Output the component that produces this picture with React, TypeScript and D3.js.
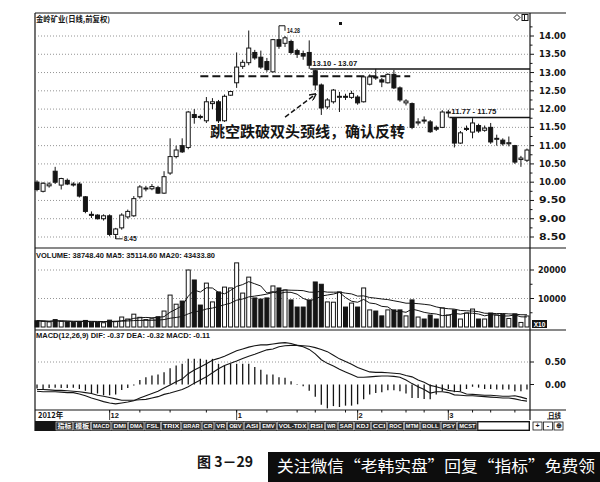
import * as d3 from 'd3'

// ── daily bars (index 0 = first bar on the left) ─────────────────────────
const OPEN = [10.0, 9.75, 9.9, 10.3, 9.92, 10.05, 9.95, 9.95, 9.6, 9.12,
  9.1, 9.0, 9.08, 8.57, 8.75, 9.05, 9.08, 9.6, 9.82, 9.82,
  9.85, 9.7, 10.25, 10.7, 11.0, 10.95, 11.85, 11.8, 11.68, 12.15,
  12.2, 11.68, 12.38, 12.72, 13.17, 13.27, 13.55, 13.42, 13.3, 13.02,
  13.9, 13.8, 13.85, 13.6, 13.52, 13.55, 13.05, 12.66, 12.06, 12.2,
  12.33, 12.35, 12.32, 12.33, 12.2, 12.68, 12.88, 12.8, 12.72, 12.95,
  12.58, 12.17, 12.15, 11.62, 11.7, 11.65, 11.5, 11.5, 11.9, 11.75,
  11.07, 11.45, 11.37, 11.55, 11.42, 11.5, 11.18, 11.15, 11.05, 11.0,
  10.62, 10.6]
const HIGH = [10.05, 10.0, 10.0, 10.42, 10.12, 10.1, 10.0, 10.0, 9.62, 9.2,
  9.12, 9.12, 9.12, 8.75, 9.15, 9.25, 9.62, 9.92, 9.9, 9.95,
  9.9, 10.3, 11.2, 11.0, 11.2, 11.95, 12.0, 11.85, 12.33, 12.3,
  12.25, 12.4, 12.5, 13.55, 13.35, 14.15, 13.62, 13.6, 13.4, 13.92,
  14.28, 14.0, 13.9, 13.65, 13.6, 13.88, 13.07, 12.7, 12.3, 12.55,
  12.47, 12.42, 12.5, 12.38, 12.9, 12.95, 13.1, 12.85, 12.98, 13.07,
  12.62, 12.27, 12.18, 11.75, 11.8, 11.7, 11.55, 11.97, 11.98, 11.75,
  11.4, 11.55, 11.75, 11.6, 11.55, 11.62, 11.3, 11.2, 11.25, 11.02,
  10.72, 10.92]
const LOW = [9.75, 9.72, 9.85, 9.95, 9.8, 9.92, 9.88, 9.58, 9.15, 9.02,
  8.98, 8.95, 8.52, 8.45, 8.7, 9.0, 9.05, 9.55, 9.75, 9.78,
  9.68, 9.68, 10.2, 10.65, 10.8, 10.9, 11.6, 11.72, 11.62, 12.0,
  11.62, 11.65, 12.36, 12.58, 13.1, 13.2, 13.35, 13.1, 13.02, 13.0,
  13.65, 13.7, 13.5, 13.4, 13.35, 13.1, 12.52, 11.84, 12.0, 12.15,
  11.92, 12.25, 12.28, 12.12, 12.18, 12.65, 12.8, 12.6, 12.7, 12.55,
  12.2, 12.1, 11.45, 11.55, 11.6, 11.35, 11.4, 11.48, 11.77, 10.95,
  11.05, 11.4, 11.2, 11.35, 11.38, 11.05, 11.0, 11.0, 10.98, 10.5,
  10.42, 10.55]
const CLOSE = [9.8, 9.97, 9.95, 10.0, 10.1, 9.95, 9.93, 9.62, 9.2, 9.1,
  9.0, 9.08, 8.57, 8.72, 9.1, 9.2, 9.55, 9.87, 9.84, 9.88,
  9.7, 10.15, 10.7, 10.88, 10.83, 11.92, 11.77, 11.78, 12.2, 12.2,
  11.68, 12.35, 12.48, 13.15, 13.28, 13.67, 13.4, 13.15, 13.08, 13.9,
  13.72, 13.95, 13.55, 13.5, 13.45, 13.2, 12.66, 12.03, 12.25, 12.52,
  12.35, 12.33, 12.43, 12.17, 12.88, 12.88, 12.85, 12.74, 12.95, 12.58,
  12.25, 12.22, 11.5, 11.65, 11.68, 11.38, 11.45, 11.92, 11.92, 11.07,
  11.35, 11.47, 11.62, 11.4, 11.48, 11.1, 11.2, 11.05, 11.08, 10.55,
  10.66, 10.88]
const VOLUME = [22000, 20000, 18000, 26000, 20000, 18000, 16000, 19000, 23000, 17000,
  16000, 15000, 24000, 20000, 35000, 28000, 45000, 34000, 26000, 29000,
  36000, 56000, 112000, 80000, 91000, 200000, 165000, 77000, 154000, 88000,
  123000, 140000, 137000, 225000, 119000, 175000, 102000, 98000, 102000, 144000,
  137000, 130000, 95000, 70000, 70000, 95000, 158000, 150000, 88000, 87000,
  123000, 70000, 84000, 70000, 137000, 60000, 56000, 39000, 60000, 60000,
  60000, 39000, 95000, 35000, 28000, 42000, 28000, 67000, 42000, 60000,
  28000, 49000, 63000, 28000, 28000, 49000, 42000, 45000, 30000, 46000,
  16000, 38748.4]
const DIF = [-0.15, -0.16, -0.16, -0.16, -0.17, -0.18, -0.18, -0.21, -0.25, -0.30,
  -0.34, -0.38, -0.41, -0.43, -0.41, -0.39, -0.36, -0.30, -0.25, -0.20,
  -0.15, -0.08, -0.01, 0.06, 0.12, 0.24, 0.32, 0.39, 0.46, 0.54,
  0.58, 0.63, 0.69, 0.75, 0.79, 0.83, 0.86, 0.88, 0.88, 0.90,
  0.92, 0.93, 0.91, 0.87, 0.84, 0.78, 0.68, 0.55, 0.47, 0.41,
  0.34, 0.28, 0.22, 0.16, 0.16, 0.17, 0.18, 0.19, 0.19, 0.18,
  0.16, 0.10, 0.02, -0.05, -0.11, -0.19, -0.16, -0.16, -0.18, -0.23,
  -0.24, -0.25, -0.25, -0.26, -0.27, -0.28, -0.29, -0.30, -0.30, -0.32,
  -0.35, -0.37]
const DEA = [-0.11, -0.11, -0.12, -0.13, -0.13, -0.14, -0.15, -0.16, -0.18, -0.20,
  -0.24, -0.26, -0.29, -0.32, -0.35, -0.35, -0.35, -0.34, -0.33, -0.30,
  -0.27, -0.22, -0.19, -0.15, -0.11, -0.05, 0.03, 0.10, 0.17, 0.26,
  0.35, 0.42, 0.47, 0.52, 0.58, 0.63, 0.67, 0.72, 0.77, 0.79,
  0.84, 0.86, 0.87, 0.87, 0.86, 0.85, 0.82, 0.78, 0.73, 0.65,
  0.57, 0.51, 0.45, 0.38, 0.33, 0.28, 0.27, 0.27, 0.26, 0.25,
  0.24, 0.20, 0.17, 0.10, 0.05, -0.02, -0.05, -0.09, -0.13, -0.15,
  -0.16, -0.21, -0.22, -0.23, -0.24, -0.24, -0.25, -0.26, -0.26, -0.25,
  -0.28, -0.32]
const MACD_BAR = [-0.09, -0.10, -0.08, -0.07, -0.08, -0.08, -0.07, -0.10, -0.14, -0.20,
  -0.20, -0.24, -0.24, -0.22, -0.12, -0.08, -0.02, 0.10, 0.16, 0.20,
  0.22, 0.27, 0.36, 0.42, 0.46, 0.57, 0.57, 0.57, 0.55, 0.57,
  0.46, 0.42, 0.46, 0.46, 0.46, 0.46, 0.39, 0.33, 0.22, 0.22,
  0.16, 0.15, 0.07, 0.01, -0.04, -0.14, -0.27, -0.45, -0.53, -0.48,
  -0.50, -0.47, -0.47, -0.44, -0.33, -0.22, -0.19, -0.17, -0.13, -0.13,
  -0.15, -0.20, -0.30, -0.30, -0.32, -0.33, -0.22, -0.15, -0.10, -0.17,
  -0.15, -0.10, -0.05, -0.07, -0.10, -0.10, -0.11, -0.11, -0.11, -0.15,
  -0.15, -0.11]

// ── axes / labels ────────────────────────────────────────────────────────
const PRICE_TICKS = [8.5, 9, 9.5, 10, 10.5, 11, 11.5, 12, 12.5, 13, 13.5, 14]
const VOL_TICKS = [100000, 200000]
const MACD_TICKS = [0, 0.5]
const MONTHS = [
  { i: 0, label: '2012年' }, { i: 12, label: '12' }, { i: 33, label: '1' },
  { i: 53, label: '2' }, { i: 68, label: '3' },
]
const WEEK_TICKS = [12, 17, 22, 28, 33, 38, 43, 46, 51, 53, 57, 61, 64, 68, 72, 75, 79]
const TOOLBAR = ['指标', '模板', 'MACD', 'DMI', 'DMA', 'FSL', 'TRIX', 'BRAR', 'CR', 'VR', 'OBV',
  'ASI', 'EMV', 'VOL-TDX', 'RSI', 'WR', 'SAR', 'KDJ', 'CCI', 'ROC', 'MTM', 'BOLL', 'PSY', 'MCST']

const TITLE = '金岭矿业(日线,前复权)'
const VOL_TITLE = 'VOLUME: 38748.40  MA5: 35114.60  MA20: 43433.80'
const MACD_TITLE = 'MACD(12,26,9)  DIF: -0.37  DEA: -0.32  MACD: -0.11'
const NOTE = '跳空跌破双头颈线，确认反转'
const CAPTION = '图 3－29'
const WATERMARK = '关注微信“老韩实盘”回复“指标”免费领'

const HIGH_MARK = { i: 40, label: '14.28' }
const LOW_MARK = { i: 13, label: '8.45' }
const GAPS = [
  { i: 45, level: 13.10, label: '13.10 - 13.07' },
  { i: 68, level: 11.77, label: '11.77 - 11.75' },
]
const NECKLINE = { from: 27, to: 61.7, level: 12.9 }
const ARROW = { from: [41, 11.78], to: [46, 12.4] }
const NOTE_AT = { i: 28.6, price: 11.24 }

// ── layout ───────────────────────────────────────────────────────────────
const W = 600, H = 482
const L = 35, AX = 530, R = 566
const P_TOP = 13, P_BOT = 248, V_BOT = 330, M_BOT = 410, D_BOT = 420, TB_BOT = 431

const SANS = '"Liberation Sans", Arial, sans-serif'
const AXF = '"DejaVu Sans", sans-serif'
const CJK = '"Noto Sans CJK SC", sans-serif'
const INK = '#151515'

export default function App() {
  const n = CLOSE.length
  const x = d3.scaleBand<number>().domain(d3.range(n)).range([L - 1, AX])
  const step = x.bandwidth()
  const cx = (i: number) => (x(i) ?? 0) + step / 2
  const xi = d3.scaleLinear().domain([0, n - 1]).range([cx(0), cx(n - 1)])

  const yP = d3.scaleLinear().domain([8.5, 14]).range([237, 36])
  const yV = d3.scaleLinear().domain([0, 200000]).range([327, 270])
  const yM = d3.scaleLinear().domain([0, 0.5]).range([384.5, 362])

  const ma = (k: number) => VOLUME.map((_, i) => d3.mean(VOLUME.slice(Math.max(0, i - k + 1), i + 1)) as number)
  const volLine = d3.line<number>().x((_, i) => cx(i)).y(v => yV(v))
  const macdLine = d3.line<number>().x((_, i) => cx(i)).y(v => yM(v))

  const bw = 4
  const up = (i: number) => CLOSE[i] >= OPEN[i]

  // toolbar buttons, widths proportional to label length
  const raw = TOOLBAR.map(t => 4 + (/[^\x00-\x7f]/.test(t) ? t.length * 6 : t.length * 3.6))
  const tbStart = 56, tbEnd = 477, gap = 1
  const k = (tbEnd - tbStart - gap * (TOOLBAR.length - 1)) / d3.sum(raw)
  let acc = tbStart
  const buttons = TOOLBAR.map((t, j) => {
    const w = raw[j] * k
    const b = { t, x: acc, w }
    acc += w + gap
    return b
  })

  const dotted = { stroke: '#7a7a7a', strokeWidth: 0.8, strokeDasharray: '1 2' }

  return (
    <div style={{ position: 'absolute', left: 0, top: 0 }}>
      <svg width={W} height={H} viewBox={`0 0 ${W} ${H}`} style={{ display: 'block', background: '#fff' }}>
        <defs>
          <marker id="ah" viewBox="0 0 6 6" refX="5" refY="3" markerWidth="5" markerHeight="5" orient="auto">
            <path d="M0,0 L6,3 L0,6" fill="none" stroke={INK} strokeWidth={1.2} />
          </marker>
        </defs>

        {/* ── frame ── */}
        <g stroke={INK} strokeWidth={1.2}>
          <line x1={L} x2={R} y1={P_TOP} y2={P_TOP} />
          <line x1={L} x2={L} y1={P_TOP} y2={TB_BOT} />
          <line x1={AX} x2={AX} y1={P_TOP} y2={D_BOT} />
          <line x1={L} x2={R} y1={P_BOT} y2={P_BOT} />
          <line x1={L} x2={R} y1={V_BOT} y2={V_BOT} />
          <line x1={L} x2={R} y1={M_BOT} y2={M_BOT} />
        </g>

        {/* ── price panel ── */}
        <text x={L + 1} y={22} fontFamily={CJK} fontWeight={700} fontSize={7.5} textLength={74}
          lengthAdjust="spacingAndGlyphs" fill={INK}>{TITLE}</text>
        <path d={`M${517},${14.5} l3,3 l-3,3 l-3,-3 z`} fill="none" stroke={INK} strokeWidth={1} />
        <rect x={522} y={14.5} width={6} height={6} fill="none" stroke={INK} strokeWidth={1} />
        <line x1={524.5} x2={524.5} y1={14.5} y2={20.5} stroke={INK} strokeWidth={1} />
        <rect x={339} y={22} width={3} height={3} fill={INK} />

        {PRICE_TICKS.map(t => (
          <g key={t}>
            <line x1={L} x2={AX} y1={yP(t)} y2={yP(t)} {...dotted} />
            <line x1={AX} x2={AX + 4} y1={yP(t)} y2={yP(t)} stroke={INK} strokeWidth={1} />
            <line x1={AX} x2={AX + 2.5} y1={yP(t + 0.25)} y2={yP(t + 0.25)} stroke={INK} strokeWidth={1} />
            <text x={R} y={yP(t) + 3} textAnchor="end" fontFamily={AXF} fontWeight={700} fontSize={8.5}
              textLength={27} lengthAdjust="spacingAndGlyphs" fill={INK}>{t.toFixed(2)}</text>
          </g>
        ))}

        {/* neckline + gap lines */}
        <line x1={xi(NECKLINE.from)} x2={xi(NECKLINE.to)} y1={yP(NECKLINE.level)} y2={yP(NECKLINE.level)}
          stroke={INK} strokeWidth={2} strokeDasharray="8 4" />
        {GAPS.map(g => (
          <g key={g.label}>
            <line x1={cx(g.i) + 1} x2={AX} y1={yP(g.level)} y2={yP(g.level)} stroke={INK} strokeWidth={1.5} />
            <text x={cx(g.i) + 3} y={yP(g.level) - 3} fontFamily={SANS} fontWeight={700} fontSize={7.5}
              textLength={45} lengthAdjust="spacingAndGlyphs" fill={INK}>{g.label}</text>
          </g>
        ))}

        {/* candles */}
        {CLOSE.map((c, i) => {
          const top = yP(Math.max(OPEN[i], c))
          const bot = yP(Math.min(OPEN[i], c))
          return (
            <g key={i}>
              <line x1={cx(i)} x2={cx(i)} y1={yP(HIGH[i])} y2={yP(LOW[i])} stroke={INK} strokeWidth={1} />
              <rect x={cx(i) - bw / 2} y={top} width={bw} height={Math.max(1, bot - top)}
                fill={up(i) ? '#fff' : INK} stroke={INK} strokeWidth={1} />
            </g>
          )
        })}

        {/* high / low marks */}
        <path d={`M${cx(HIGH_MARK.i)},${yP(HIGH[HIGH_MARK.i])} h6 v5`} fill="none" stroke={INK} strokeWidth={1} />
        <text x={cx(HIGH_MARK.i) + 8} y={yP(HIGH[HIGH_MARK.i]) + 7} fontFamily={SANS} fontWeight={700} fontSize={7.5}
          textLength={13} lengthAdjust="spacingAndGlyphs" fill={INK}>{HIGH_MARK.label}</text>
        <path d={`M${cx(LOW_MARK.i)},${yP(LOW[LOW_MARK.i]) - 3} v3 h7`} fill="none" stroke={INK} strokeWidth={1} />
        <text x={cx(LOW_MARK.i) + 8} y={yP(LOW[LOW_MARK.i]) + 2.5} fontFamily={SANS} fontWeight={700} fontSize={7.5}
          textLength={13} lengthAdjust="spacingAndGlyphs" fill={INK}>{LOW_MARK.label}</text>

        {/* annotation */}
        <line x1={xi(ARROW.from[0])} y1={yP(ARROW.from[1])} x2={xi(ARROW.to[0])} y2={yP(ARROW.to[1])}
          stroke={INK} strokeWidth={1.4} strokeDasharray="5 2.5" markerEnd="url(#ah)" />
        <text x={xi(NOTE_AT.i)} y={yP(NOTE_AT.price)} fontFamily={CJK} fontWeight={700} fontSize={15}
          textLength={195} lengthAdjust="spacingAndGlyphs" fill={INK}>{NOTE}</text>

        {/* ── volume panel ── */}
        <text x={L + 1} y={258} fontFamily={SANS} fontWeight={700} fontSize={7.5} textLength={179}
          lengthAdjust="spacingAndGlyphs" fill={INK}>{VOL_TITLE}</text>
        {VOL_TICKS.map(t => (
          <g key={t}>
            <line x1={L} x2={AX} y1={yV(t)} y2={yV(t)} {...dotted} />
            <line x1={AX} x2={AX + 4} y1={yV(t)} y2={yV(t)} stroke={INK} strokeWidth={1} />
            <line x1={AX} x2={AX + 2.5} y1={yV(t - 50000)} y2={yV(t - 50000)} stroke={INK} strokeWidth={1} />
            <text x={R} y={yV(t) + 3} textAnchor="end" fontFamily={AXF} fontWeight={700} fontSize={8.5}
              textLength={28} lengthAdjust="spacingAndGlyphs" fill={INK}>{t / 10}</text>
          </g>
        ))}
        {VOLUME.map((v, i) => (
          <rect key={i} x={cx(i) - bw / 2} y={yV(v)} width={bw} height={yV(0) - yV(v)}
            fill={up(i) ? '#fff' : INK} stroke={INK} strokeWidth={1} />
        ))}
        <path d={volLine(ma(5)) ?? ''} fill="none" stroke={INK} strokeWidth={1} />
        <path d={volLine(ma(20)) ?? ''} fill="none" stroke={INK} strokeWidth={1} />
        <rect x={AX + 2} y={320} width={15} height={8} fill={INK} />
        <text x={AX + 9.5} y={326.5} textAnchor="middle" fontFamily={SANS} fontWeight={700} fontSize={6.5} fill="#fff">X10</text>

        {/* ── MACD panel ── */}
        <text x={L + 1} y={338} fontFamily={SANS} fontWeight={700} fontSize={7.5} textLength={174}
          lengthAdjust="spacingAndGlyphs" fill={INK}>{MACD_TITLE}</text>
        <line x1={L} x2={AX} y1={yM(0.5)} y2={yM(0.5)} {...dotted} />
        {MACD_TICKS.map(t => (
          <g key={t}>
            <line x1={AX} x2={AX + 4} y1={yM(t)} y2={yM(t)} stroke={INK} strokeWidth={1} />
            <text x={R} y={yM(t) + 3} textAnchor="end" fontFamily={AXF} fontWeight={700} fontSize={8.5}
              textLength={21} lengthAdjust="spacingAndGlyphs" fill={INK}>{t.toFixed(2)}</text>
          </g>
        ))}
        {MACD_BAR.map((v, i) => (
          <line key={i} x1={cx(i)} x2={cx(i)} y1={yM(0)} y2={yM(v)} stroke={INK} strokeWidth={1.3} />
        ))}
        <path d={macdLine(DIF) ?? ''} fill="none" stroke={INK} strokeWidth={1.1} />
        <path d={macdLine(DEA) ?? ''} fill="none" stroke={INK} strokeWidth={1.1} />

        {/* ── date row ── */}
        {WEEK_TICKS.map(i => (
          <line key={i} x1={cx(i)} x2={cx(i)} y1={M_BOT} y2={M_BOT + 2.5} stroke={INK} strokeWidth={1} />
        ))}
        {MONTHS.map(m => (
          <g key={m.label}>
            {m.i > 0 && <line x1={cx(m.i)} x2={cx(m.i)} y1={M_BOT} y2={D_BOT} stroke={INK} strokeWidth={0.8} />}
            <text x={cx(m.i) + 1} y={418} fontFamily={m.i === 0 ? CJK : SANS} fontWeight={700} fontSize={7.5}
              fill={INK}>{m.label}</text>
          </g>
        ))}
        <text x={548} y={418} fontFamily={CJK} fontWeight={700} fontSize={6.5} fill={INK}>日线</text>
        <line x1={547} x2={558} y1={419} y2={419} stroke={INK} strokeWidth={0.8} />

        {/* ── toolbar ── */}
        <rect x={L} y={D_BOT + 1} width={AX - L} height={TB_BOT - D_BOT - 1} fill={INK} />
        {buttons.map(b => (
          <g key={b.t}>
            <rect x={b.x} y={D_BOT + 2} width={b.w} height={TB_BOT - D_BOT - 3} fill="#2b2b2b" stroke="#e6e6e6" strokeWidth={0.6} />
            <text x={b.x + b.w / 2} y={TB_BOT - 3} textAnchor="middle" fontFamily={/[^\x00-\x7f]/.test(b.t) ? CJK : SANS}
              fontWeight={700} fontSize={6} textLength={b.w - 3} lengthAdjust="spacingAndGlyphs" fill="#fff">{b.t}</text>
          </g>
        ))}
        <rect x={tbEnd + 1} y={D_BOT + 2} width={AX - tbEnd - 2} height={TB_BOT - D_BOT - 3} fill="#fff" stroke={INK} strokeWidth={0.8} />
        {['+', '-', '⊕'].map((s, j) => (
          <g key={s}>
            <rect x={AX + 3 + j * 10.5} y={D_BOT + 2} width={9} height={TB_BOT - D_BOT - 3} fill="#fff" stroke={INK} strokeWidth={0.8} />
            <text x={AX + 7.5 + j * 10.5} y={TB_BOT - 3} textAnchor="middle" fontFamily={SANS} fontWeight={700} fontSize={7} fill={INK}>{s}</text>
          </g>
        ))}

        {/* ── caption + watermark ── */}
        <text x={197} y={467} fontFamily={CJK} fontWeight={700} fontSize={14} textLength={56}
          lengthAdjust="spacingAndGlyphs" fill={INK}>{CAPTION}</text>
        <rect x={268} y={452} width={W - 268} height={H - 452} fill="#0d0d0d" />
        <text x={277} y={472} fontFamily={CJK} fontSize={15.5} textLength={318}
          lengthAdjust="spacingAndGlyphs" fill="#fff">{WATERMARK}</text>
      </svg>
    </div>
  )
}
